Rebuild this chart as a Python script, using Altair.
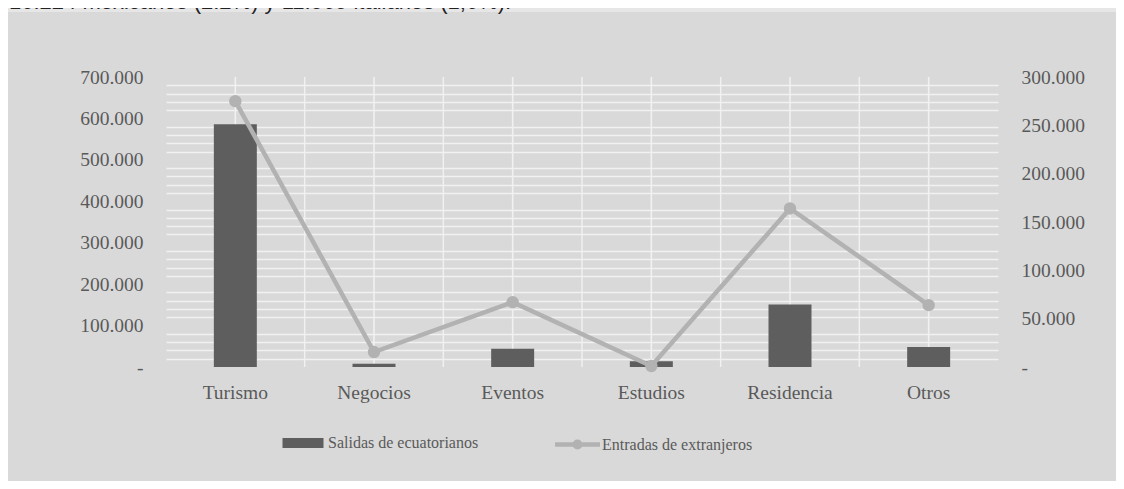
import altair as alt
import pandas as pd

# ---- data ----
categorias = ["Turismo", "Negocios", "Eventos", "Estudios", "Residencia", "Otros"]
salidas = [586000, 8000, 44000, 14000, 151000, 48000]      # bars, left axis
entradas = [275000, 15500, 67000, 1000, 164000, 64000]     # line, right axis
serie_barras = "Salidas de ecuatorianos"
serie_linea = "Entradas de extranjeros"
ticks_izq = [0, 100000, 200000, 300000, 400000, 500000, 600000, 700000]
ticks_der = [0, 50000, 100000, 150000, 200000, 250000, 300000]
grid_izq = list(range(0, 700001, 20000))
texto_superior = "16.224 mexicanos (2.2%) y 11.565 italianos (1,6%)."

df = pd.DataFrame({
    "cat": categorias,
    "salidas": salidas,
    "entradas": entradas,
    "serie_b": serie_barras,
    "serie_l": serie_linea,
})
df_bordes = df.iloc[1:]

FONT = "Liberation Serif"
LABEL_COLOR = "#595959"
GRID_COLOR = "#f1f1f1"
BAR_COLOR = "#5e5e5e"
LINE_COLOR = "#b2b2b2"
BOX_COLOR = "#d9d9d9"
PAGE_COLOR = "#e6e6e6"
W, H = 832, 290
PAD = {"left": 158, "top": 69, "right": 118, "bottom": 114}

fmt = "replace(format(datum.value, ','), ',', '.')"

x_axis = alt.Axis(title=None, labelAngle=0, domain=False, ticks=False, grid=False,
                  labelFont=FONT, labelFontSize=19.5, labelColor=LABEL_COLOR,
                  labelPadding=16)
x_enc = alt.X("cat:N", sort=categorias,
              scale=alt.Scale(paddingInner=0, paddingOuter=0), axis=x_axis)
x_enc_borde = alt.X("cat:N", sort=categorias, bandPosition=0,
                    scale=alt.Scale(paddingInner=0, paddingOuter=0), axis=x_axis)

uno = pd.DataFrame({"k": [0]})
# light page strip above the chart box, with the cropped paragraph text
franja_sup = alt.Chart(uno).mark_rect(color=PAGE_COLOR).encode(
    x=alt.value(-PAD["left"]), x2=alt.value(W + PAD["right"]),
    y=alt.value(-PAD["top"]), y2=alt.value(-PAD["top"] + 4))
texto = alt.Chart(pd.DataFrame({"t": [texto_superior]})).mark_text(
    align="left", baseline="alphabetic", font="Liberation Sans", fontSize=22,
    color="#222222",
).encode(x=alt.value(-PAD["left"] + 1), y=alt.value(-PAD["top"] + 1), text="t:N")

# vertical gridlines (band centres and inner band boundaries)
v_centro = alt.Chart(df).mark_rule(color=GRID_COLOR, strokeWidth=1.6).encode(x=x_enc)
v_borde = alt.Chart(df_bordes).mark_rule(color=GRID_COLOR, strokeWidth=1.4).encode(x=x_enc_borde)

barras = alt.Chart(df).mark_bar(color=BAR_COLOR, width=alt.RelativeBandSize(0.31)).encode(
    x=x_enc,
    y=alt.Y("salidas:Q", scale=alt.Scale(domain=[0, 700000], nice=False),
            axis=alt.Axis(title=None, orient="left", values=grid_izq, domain=False,
                          ticks=False, labelOverlap=False, labelFont=FONT,
                          labelFontSize=19.5, labelColor=LABEL_COLOR, labelPadding=23,
                          labelExpr="datum.value % 100000 != 0 ? '' : (datum.value == 0 ? '-' : " + fmt + ")",
                          grid=True, gridColor=GRID_COLOR, gridWidth=1.5,
                          gridOpacity={"condition": {"test": "datum.value % 100000 === 0", "value": 0}, "value": 1})),
    color=alt.Color("serie_b:N", scale=alt.Scale(domain=[serie_barras], range=[BAR_COLOR]),
                    legend=alt.Legend(title=None, orient="none", legendX=127, legendY=356,
                                      padding=0, symbolType="M-2.05,-0.5H2.05V0.5H-2.05Z",
                                      symbolSize=400, symbolStrokeWidth=0,
                                      labelFont=FONT, labelFontSize=16,
                                      labelColor=LABEL_COLOR, labelOffset=15)),
)

eje_der = alt.Axis(title=None, orient="right", values=ticks_der, domain=False,
                   ticks=False, grid=False, labelOverlap=False, labelFont=FONT,
                   labelFontSize=19.5, labelColor=LABEL_COLOR, labelPadding=23,
                   labelExpr="datum.value == 0 ? '-' : " + fmt)
y_der = alt.Y("entradas:Q", scale=alt.Scale(domain=[0, 300000], nice=False), axis=eje_der)

linea = alt.Chart(df).mark_line(strokeWidth=4.5).encode(
    x=x_enc,
    y=y_der,
    color=alt.Color("serie_l:N", scale=alt.Scale(domain=[serie_linea], range=[LINE_COLOR]),
                    legend=alt.Legend(title=None, orient="none", legendX=399, legendY=355,
                                      padding=0,
                                      symbolType="M-2.25,0H2.25M0.28,0A0.28,0.28,0,1,1,-0.28,0A0.28,0.28,0,1,1,0.28,0",
                                      symbolSize=400, symbolStrokeWidth=4.5,
                                      labelFont=FONT, labelFontSize=16,
                                      labelColor=LABEL_COLOR, labelOffset=12)),
)
puntos = alt.Chart(df).mark_circle(size=154, opacity=1, color=LINE_COLOR).encode(
    x=x_enc,
    y=y_der,
)
linea_capa = alt.layer(linea, puntos)

chart = alt.layer(franja_sup, texto, v_centro, v_borde, barras,
                  linea_capa).resolve_scale(
    y="independent", color="independent"
).properties(
    width=W, height=H, padding=PAD,
    autosize=alt.AutoSizeParams(type="none"),
    background=BOX_COLOR,
).configure_view(stroke=None)

chart.save("out.html", embed_options={"renderer": "svg", "actions": False})
